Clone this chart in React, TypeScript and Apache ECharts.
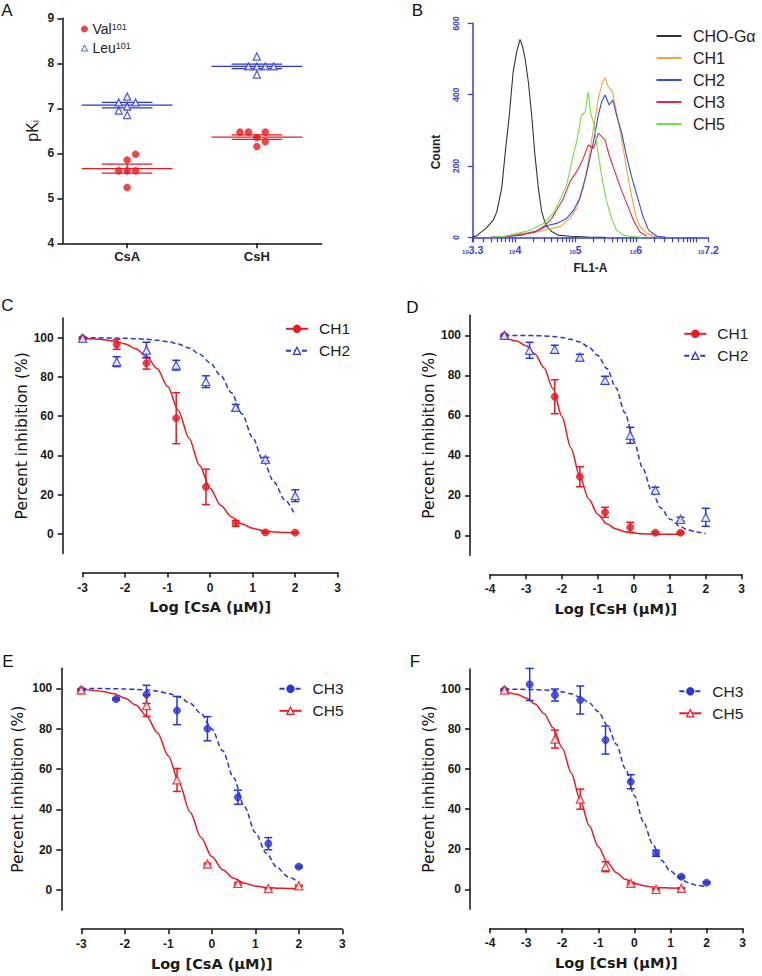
import React, { useEffect, useRef } from 'react';
import * as echarts from 'echarts';

// ---------- Panel A ----------
const groups = ['CsA', 'CsH'];
const groupPos = [1, 3];
const valCsA = [5.98, 5.85, 5.61, 5.61, 5.61, 5.24];
const valCsAJit = [0.13, 0, -0.13, 0, 0.13, 0];
const valCsH = [6.47, 6.47, 6.47, 6.35, 6.26, 6.15];
const valCsHJit = [-0.26, -0.13, 0.13, 0, 0.13, 0];
const leuCsA = [7.26, 7.13, 7.13, 7.04, 6.95, 6.85];
const leuCsAJit = [0, -0.13, 0.13, 0, -0.13, 0];
const leuCsH = [8.15, 7.93, 7.93, 7.93, 7.93, 7.75];
const leuCsHJit = [0, -0.13, 0, 0.13, 0.26, 0];
const valMean = [5.66, 6.36];
const valSem = [0.1, 0.05];
const leuMean = [7.07, 7.93];
const leuSem = [0.06, 0.05];

// ---------- Panel B (log10 FL1-A vs count) ----------
const histNames = ['CHO-G\u03b1', 'CH1 ', 'CH2 ', 'CH3 ', 'CH5 '];
const histColors = ['#333333', '#f5a33a', '#3746e0', '#ea2748', '#70e040'];
const blackX = [3.3, 3.37, 3.41, 3.52, 3.64, 3.7, 3.78, 3.835, 3.906, 3.97, 4.028, 4.083, 4.127, 4.166, 4.221, 4.276, 4.33, 4.387, 4.442, 4.51, 4.607, 4.717, 4.91, 5.2, 5.5];
const blackY = [2, 4, 11, 25, 48, 72, 137, 231, 343, 464, 520, 555, 534, 502, 436, 343, 231, 137, 72, 34, 16, 6, 3, 1, 0];
const orangeX = [3.6, 3.84, 4.11, 4.39, 4.61, 4.75, 4.91, 5.02, 5.13, 5.214, 5.3, 5.38, 5.45, 5.49, 5.545, 5.617, 5.68, 5.74, 5.82, 5.9, 5.99, 6.07, 6.18, 6.29, 6.4];
const orangeY = [0, 2, 11, 16, 25, 30, 53, 81, 137, 212, 306, 390, 436, 448, 422, 408, 350, 300, 220, 142, 67, 30, 11, 3, 0];
const blueX = [3.6, 3.84, 4.11, 4.39, 4.55, 4.69, 4.856, 4.97, 5.07, 5.18, 5.3, 5.38, 5.435, 5.49, 5.56, 5.617, 5.68, 5.77, 5.85, 5.93, 6.04, 6.12, 6.21, 6.35, 6.5];
const blueY = [0, 2, 6, 20, 34, 39, 53, 76, 109, 175, 268, 343, 380, 399, 371, 385, 343, 290, 225, 170, 105, 58, 20, 3, 0];
const redX = [3.6, 3.84, 4.11, 4.33, 4.5, 4.61, 4.69, 4.8, 4.91, 5.02, 5.13, 5.214, 5.3, 5.38, 5.435, 5.49, 5.56, 5.62, 5.74, 5.85, 5.96, 6.07, 6.18];
const redY = [0, 2, 8, 14, 34, 53, 76, 109, 156, 184, 221, 259, 249, 292, 282, 273, 230, 200, 142, 95, 48, 15, 3];
const greenX = [3.6, 3.84, 4.249, 4.47, 4.635, 4.745, 4.856, 4.94, 5.02, 5.1, 5.16, 5.214, 5.25, 5.31, 5.38, 5.45, 5.518, 5.6, 5.68, 5.79, 5.9, 6.1];
const greenY = [0, 3, 20, 39, 67, 105, 147, 212, 268, 343, 350, 408, 350, 315, 231, 156, 100, 53, 20, 6, 3, 0];
const bLabelValues = [3.3, 4, 5, 6, 7.2];

// ---------- Panels C-F ----------
const yTicksDose = [0, 20, 40, 60, 80, 100];
const fitX21 = [-3, -2.75, -2.5, -2.25, -2, -1.75, -1.5, -1.25, -1, -0.75, -0.5, -0.25, 0, 0.25, 0.5, 0.75, 1, 1.25, 1.5, 1.75, 2];
const fitX23 = [-3.6, -3.25, -3, -2.75, -2.5, -2.25, -2, -1.75, -1.5, -1.25, -1, -0.75, -0.5, -0.25, 0, 0.25, 0.5, 0.75, 1, 1.3, 1.5, 1.75, 2];

// C: CsA, CH1 / CH2
const doseXC = [-3, -2.2, -1.5, -0.8, -0.1, 0.6, 1.3, 2.0];
const ch1C = [99.7, 96.6, 87, 59, 24, 5.4, 0.8, 0.7];
const ch1CErr = [0.5, 2.5, 3, 13, 9, 1.5, 0.3, 0.3];
const ch2C = [99.7, 87.8, 93.7, 86, 77.6, 64.5, 38, 19.5];
const ch2CErr = [0.5, 2.5, 4, 2.5, 3, 1.5, 1, 3];
const ch1CFit = [99.7, 99.4, 99.0, 98.2, 96.8, 94.4, 90.5, 84.3, 75.1, 62.9, 48.9, 34.9, 23.2, 14.5, 8.7, 5.1, 2.9, 1.7, 1.0, 0.7, 0.6];
const ch2CFit = [99.96, 99.95, 99.9, 99.8, 99.7, 99.5, 99.2, 98.7, 98.0, 96.8, 94.8, 91.7, 87.2, 80.7, 71.9, 61.1, 49.0, 37.1, 26.5, 17.5, 9.5];

// D: CsH, CH1 / CH2
const ch1XD = [-3.6, -2.2, -1.5, -0.8, -0.1, 0.6, 1.3];
const ch1D = [99.7, 69.3, 29.3, 11.5, 4, 1.3, 1.3];
const ch1DErr = [0.5, 8.5, 5, 2.5, 2.5, 0.5, 0.5];
const ch2XD = [-3.6, -2.9, -2.2, -1.5, -0.8, -0.1, 0.6, 1.3, 2.0];
const ch2D = [100, 92.5, 93, 89, 77.5, 50, 22.5, 8, 9];
const ch2DErr = [0.5, 4, 2, 1.5, 2, 4, 1.5, 1, 4.5];
const ch1DFit = [98.8, 97.2, 94.8, 90.7, 83.8, 73.4, 59.4, 43.7, 29.2, 18.0, 10.4, 5.8, 3.2, 1.8, 1.1, 0.8, 0.6, 0.5, 0.5, 0.5];
const ch2DFit = [99.97, 99.9, 99.9, 99.8, 99.7, 99.4, 98.9, 98.0, 96.6, 94.1, 89.9, 83.4, 73.8, 61.3, 47.1, 33.4, 22.0, 13.7, 8.2, 4.3, 2.7, 1.6, 0.9];

// E: CsA, CH3 / CH5
const ch3XE = [-3, -2.2, -1.5, -0.8, -0.1, 0.6, 1.3, 2.0];
const ch3E = [99.2, 94.7, 97, 89, 80, 46, 23, 11.6];
const ch3EErr = [0.5, 0.5, 4.5, 7, 6, 3.5, 3, 0.5];
const ch5XE = [-3, -1.5, -0.8, -0.1, 0.6, 1.3, 2.0];
const ch5E = [99.2, 91.4, 54.6, 12.9, 3.3, 0.8, 2.1];
const ch5EErr = [0.5, 5.3, 5.7, 0.5, 0.5, 0.3, 0.3];
const ch3EFit = [99.98, 99.95, 99.9, 99.8, 99.7, 99.5, 99.2, 98.6, 97.5, 95.7, 92.6, 87.6, 79.9, 69.1, 55.7, 41.4, 28.5, 18.3, 11.2, 6.6, 3.8];
const ch5EFit = [99.5, 99.1, 98.4, 97.3, 95.2, 91.8, 86.3, 78.0, 66.6, 52.9, 38.7, 26.2, 16.6, 10.1, 5.9, 3.4, 2.0, 1.3, 0.9, 0.8, 0.7];

// F: CsH, CH3 / CH5
const ch3XF = [-3.6, -2.9, -2.2, -1.5, -0.8, -0.1, 0.6, 1.3, 2.0];
const ch3F = [99.5, 102.3, 97, 94.5, 74.5, 53.7, 18, 6.3, 3.3];
const ch3FErr = [0.5, 8, 3, 7, 7, 3.5, 1.5, 0.5, 0.5];
const ch5XF = [-3.6, -2.2, -1.5, -0.8, -0.1, 0.6, 1.3];
const ch5F = [99.5, 75, 45, 11.3, 3, 0, 0.5];
const ch5FErr = [0.5, 4.5, 5, 2.5, 0.5, 0.3, 0.3];
const ch3FFit = [99.96, 99.9, 99.8, 99.7, 99.5, 99.2, 98.6, 97.6, 95.9, 93.1, 88.7, 81.9, 72.4, 60.2, 46.7, 33.7, 22.7, 14.5, 9.0, 4.9, 3.2, 1.9, 1.1];
const ch5FFit = [98.8, 97.4, 95.5, 92.5, 87.7, 80.6, 70.6, 58.1, 44.5, 31.7, 21.2, 13.5, 8.3, 5.0, 2.9, 1.8, 1.1, 0.8, 0.6, 0.5];

// ---------- styles ----------
const RED = '#e8191f';
const BLUE = '#2a35d6';
const AXB = '#3b3bd6';
const INK = '#111111';
const FONT = 'Liberation Sans, Arial, sans-serif';
const NAMEFONT = 'DejaVu Sans, Verdana, sans-serif';

const zip = (xs: number[], ys: number[]) => xs.map((x, i) => [x, ys[i]]);

function errRender(color: string) {
  return (params: any, api: any) => {
    const x = api.value(0), y = api.value(1), e = api.value(2);
    const t = api.coord([x, y + e]);
    const b = api.coord([x, y - e]);
    const w = 4;
    const st = { stroke: color, lineWidth: 1.5 };
    return {
      type: 'group',
      children: [
        { type: 'line', shape: { x1: t[0], y1: t[1], x2: b[0], y2: b[1] }, style: st },
        { type: 'line', shape: { x1: t[0] - w, y1: t[1], x2: t[0] + w, y2: t[1] }, style: st },
        { type: 'line', shape: { x1: b[0] - w, y1: b[1], x2: b[0] + w, y2: b[1] }, style: st },
      ],
    };
  };
}

function meanRender(color: string) {
  return (params: any, api: any) => {
    const x = api.value(0), m = api.value(1), s = api.value(2);
    const a = api.coord([x - 0.7, m]), b = api.coord([x + 0.7, m]);
    const c1 = api.coord([x - 0.39, m + s]), c2 = api.coord([x + 0.39, m + s]);
    const d1 = api.coord([x - 0.39, m - s]), d2 = api.coord([x + 0.39, m - s]);
    const ct = api.coord([x, m + s]), cb = api.coord([x, m - s]);
    const st = { stroke: color, lineWidth: 1.3 };
    return {
      type: 'group',
      children: [
        { type: 'line', shape: { x1: a[0], y1: a[1], x2: b[0], y2: b[1] }, style: st },
        { type: 'line', shape: { x1: c1[0], y1: c1[1], x2: c2[0], y2: c2[1] }, style: st },
        { type: 'line', shape: { x1: d1[0], y1: d1[1], x2: d2[0], y2: d2[1] }, style: st },
        { type: 'line', shape: { x1: ct[0], y1: ct[1], x2: cb[0], y2: cb[1] }, style: st },
      ],
    };
  };
}

type Ds = {
  name: string; color: string; symbol: string; filled: boolean; dashed: boolean;
  x: number[]; y: number[]; e: number[]; cx: number[]; cy: number[];
};

function markerStyle(d: Ds) {
  return d.filled
    ? { color: d.color, borderColor: d.color, borderWidth: 1 }
    : { color: '#ffffff', borderColor: d.color, borderWidth: 1.3 };
}

function doseSeries(gi: number, list: Ds[]) {
  const out: any[] = [];
  list.forEach((d) => {
    out.push({
      type: 'line', name: d.name, xAxisIndex: gi, yAxisIndex: gi,
      data: d.cx.map((v, i) => [v, d.cy[i]]).filter((p) => p[1] !== undefined),
      showSymbol: false, symbol: d.symbol, symbolSize: 8, smooth: 0.3, smoothMonotone: 'x',
      lineStyle: { color: d.color, width: 1.5, type: d.dashed ? [5, 3] : 'solid' },
      itemStyle: markerStyle(d), z: 2, silent: true,
    });
  });
  list.forEach((d) => {
    out.push({
      type: 'custom', name: d.name + '-err', xAxisIndex: gi, yAxisIndex: gi,
      data: d.x.map((v, i) => [v, d.y[i], d.e[i]]), renderItem: errRender(d.color), z: 3, silent: true,
    });
  });
  list.forEach((d) => {
    out.push({
      type: 'scatter', name: d.name + '-pts', xAxisIndex: gi, yAxisIndex: gi,
      data: zip(d.x, d.y), symbol: d.symbol, symbolSize: d.symbol === 'circle' ? 7 : 8,
      itemStyle: markerStyle(d), z: 4, silent: true,
    });
  });
  return out;
}

function doseX(gi: number, min: number, name: string) {
  return {
    type: 'value', gridIndex: gi, min, max: 3, interval: 1, position: 'bottom', offset: 19,
    axisLine: { show: true, onZero: false, lineStyle: { color: INK, width: 1.5 } },
    axisTick: { show: true, length: 5, lineStyle: { color: INK, width: 1.5 } },
    axisLabel: { margin: 9, fontSize: 12, fontWeight: 'bold', color: '#1a1a1a', fontFamily: FONT },
    splitLine: { show: false },
    name, nameLocation: 'middle', nameGap: 27,
    nameTextStyle: { fontFamily: NAMEFONT, fontSize: 14.5, fontWeight: 'bold', color: '#1a1a1a' },
  };
}

function doseY(gi: number, gap: number) {
  return {
    type: 'value', gridIndex: gi, min: -10, max: 110, position: 'left', offset: 20,
    axisLine: { show: true, onZero: false, lineStyle: { color: INK, width: 1.5 } },
    axisTick: { show: true, length: 5, customValues: yTicksDose, lineStyle: { color: INK, width: 1.5 } },
    axisLabel: { customValues: yTicksDose, margin: 9, fontSize: 12, fontWeight: 'bold', color: '#1a1a1a', fontFamily: FONT },
    splitLine: { show: false },
    name: 'Percent inhibition (%)', nameLocation: 'middle', nameGap: gap,
    nameTextStyle: { fontFamily: NAMEFONT, fontSize: 15.5, color: INK },
  };
}

function doseLegend(left: number, top: number, names: string[]) {
  return {
    show: true, orient: 'vertical', left, top, itemWidth: 22, itemHeight: 9, itemGap: 6,
    data: names, selectedMode: false,
    itemStyle: { borderWidth: 1.2 },
    textStyle: { fontSize: 15.5, color: '#222', fontFamily: FONT, padding: [0, 0, 0, 6] },
  };
}

function buildOption() {
  const bTicks: number[] = [3.3];
  for (let d = 3; d <= 7; d++) {
    for (let k = 1; k <= 9; k++) {
      const v = d + Math.log10(k);
      if (v > 3.3 + 1e-6 && v < 7.2 - 1e-6) bTicks.push(+v.toFixed(4));
    }
  }
  bTicks.push(7.2);

  const C: Ds[] = [
    { name: 'CH1', color: RED, symbol: 'circle', filled: true, dashed: false, x: doseXC, y: ch1C, e: ch1CErr, cx: fitX21, cy: ch1CFit },
    { name: 'CH2', color: BLUE, symbol: 'triangle', filled: false, dashed: true, x: doseXC, y: ch2C, e: ch2CErr, cx: fitX21, cy: ch2CFit },
  ];
  const D: Ds[] = [
    { name: 'CH1', color: RED, symbol: 'circle', filled: true, dashed: false, x: ch1XD, y: ch1D, e: ch1DErr, cx: fitX23.slice(0, ch1DFit.length), cy: ch1DFit },
    { name: 'CH2', color: BLUE, symbol: 'triangle', filled: false, dashed: true, x: ch2XD, y: ch2D, e: ch2DErr, cx: fitX23, cy: ch2DFit },
  ];
  const E: Ds[] = [
    { name: 'CH3', color: BLUE, symbol: 'circle', filled: true, dashed: true, x: ch3XE, y: ch3E, e: ch3EErr, cx: fitX21, cy: ch3EFit },
    { name: 'CH5', color: RED, symbol: 'triangle', filled: false, dashed: false, x: ch5XE, y: ch5E, e: ch5EErr, cx: fitX21, cy: ch5EFit },
  ];
  const F: Ds[] = [
    { name: 'CH3', color: BLUE, symbol: 'circle', filled: true, dashed: true, x: ch3XF, y: ch3F, e: ch3FErr, cx: fitX23, cy: ch3FFit },
    { name: 'CH5', color: RED, symbol: 'triangle', filled: false, dashed: false, x: ch5XF, y: ch5F, e: ch5FErr, cx: fitX23.slice(0, ch5FFit.length), cy: ch5FFit },
  ];

  const histX = [blackX, orangeX, blueX, redX, greenX];
  const histY = [blackY, orangeY, blueY, redY, greenY];

  const aPts = (vals: number[], jit: number[], gp: number) => vals.map((v, i) => [gp + jit[i], v]);

  const series: any[] = [
    {
      type: 'custom', name: 'valMean', xAxisIndex: 0, yAxisIndex: 0,
      data: groupPos.map((g, i) => [g, valMean[i], valSem[i]]), renderItem: meanRender(RED), z: 2, silent: true,
    },
    {
      type: 'custom', name: 'leuMean', xAxisIndex: 0, yAxisIndex: 0,
      data: groupPos.map((g, i) => [g, leuMean[i], leuSem[i]]), renderItem: meanRender(BLUE), z: 2, silent: true,
    },
    {
      type: 'scatter', name: 'Val101', xAxisIndex: 0, yAxisIndex: 0,
      data: [...aPts(valCsA, valCsAJit, groupPos[0]), ...aPts(valCsH, valCsHJit, groupPos[1])],
      symbol: 'circle', symbolSize: 7, itemStyle: { color: RED, borderColor: RED, borderWidth: 0.5 }, z: 3, silent: true,
    },
    {
      type: 'scatter', name: 'Leu101', xAxisIndex: 0, yAxisIndex: 0,
      data: [...aPts(leuCsA, leuCsAJit, groupPos[0]), ...aPts(leuCsH, leuCsHJit, groupPos[1])],
      symbol: 'triangle', symbolSize: 7, itemStyle: { color: '#ffffff', borderColor: BLUE, borderWidth: 1.3 }, z: 3, silent: true,
    },
    ...histNames.map((n, i) => ({
      type: 'line', name: n, xAxisIndex: 1, yAxisIndex: 1, data: zip(histX[i], histY[i]),
      showSymbol: false, symbol: 'none', lineStyle: { color: histColors[i], width: 1.1 },
      itemStyle: { color: histColors[i] }, z: 2 + i, silent: true,
    })),
    ...doseSeries(2, C),
    ...doseSeries(3, D),
    ...doseSeries(4, E),
    ...doseSeries(5, F),
  ];

  const gridBase = { outerBoundsMode: 'none', containLabel: false };

  return {
    animation: false,
    backgroundColor: '#ffffff',
    textStyle: { fontFamily: FONT },
    grid: [
      { ...gridBase, left: 62.3, top: 18.3, width: 259.4, height: 225 },
      { ...gridBase, left: 472.7, top: 23.3, width: 235.6, height: 214 },
      { ...gridBase, left: 82.7, top: 318.1, width: 255, height: 235.5 },
      { ...gridBase, left: 490, top: 315.3, width: 251.7, height: 240 },
      { ...gridBase, left: 81.3, top: 668.2, width: 261, height: 242 },
      { ...gridBase, left: 490, top: 669, width: 252.7, height: 240.3 },
    ],
    xAxis: [
      {
        type: 'value', gridIndex: 0, min: 0, max: 4,
        axisLine: { show: true, onZero: false, lineStyle: { color: INK, width: 1.5 } },
        axisTick: { show: true, length: 5, customValues: groupPos, lineStyle: { color: INK, width: 1.5 } },
        axisLabel: {
          customValues: groupPos, margin: 7, fontSize: 13, fontWeight: 'bold', color: '#222', fontFamily: FONT,
          formatter: (v: number) => groups[groupPos.indexOf(v)] ?? '',
        },
        splitLine: { show: false },
      },
      {
        type: 'value', gridIndex: 1, min: 3.3, max: 7.2,
        axisLine: { show: true, onZero: false, lineStyle: { color: AXB, width: 1.5 } },
        axisTick: { show: true, length: 5, customValues: bTicks, lineStyle: { color: AXB, width: 1.2 } },
        axisLabel: {
          customValues: bLabelValues, margin: 7, color: AXB,
          formatter: (v: number) => `{s|10}{e|${v}}`,
          rich: {
            s: { fontSize: 6, fontWeight: 'bold', color: AXB, fontFamily: FONT, verticalAlign: 'bottom' },
            e: { fontSize: 10.5, fontWeight: 'bold', color: AXB, fontFamily: FONT, verticalAlign: 'bottom' },
          },
        },
        splitLine: { show: false },
        name: 'FL1-A', nameLocation: 'middle', nameGap: 25,
        nameTextStyle: { fontSize: 12, fontWeight: 'bold', color: '#222', fontFamily: FONT },
      },
      doseX(2, -3, 'Log [CsA (\u03bcM)]'),
      doseX(3, -4, 'Log [CsH (\u03bcM)]'),
      doseX(4, -3, 'Log [CsA (\u03bcM)]'),
      doseX(5, -4, 'Log [CsH (\u03bcM)]'),
    ],
    yAxis: [
      {
        type: 'value', gridIndex: 0, min: 4, max: 9, interval: 1,
        axisLine: { show: true, onZero: false, lineStyle: { color: INK, width: 1.5 } },
        axisTick: { show: true, length: 5, lineStyle: { color: INK, width: 1.5 } },
        axisLabel: { margin: 8, fontSize: 12, fontWeight: 'bold', color: '#222', fontFamily: FONT },
        splitLine: { show: false },
        name: '{a|pK}{b|i}', nameLocation: 'middle', nameGap: 22,
        nameTextStyle: {
          rich: {
            a: { fontSize: 16, color: '#222', fontFamily: FONT },
            b: { fontSize: 10, color: '#222', fontFamily: FONT, verticalAlign: 'bottom' },
          },
        },
      },
      {
        type: 'value', gridIndex: 1, min: 0, max: 600, interval: 200,
        axisLine: { show: true, onZero: false, lineStyle: { color: AXB, width: 1.5 } },
        axisTick: { show: true, length: 5, lineStyle: { color: AXB, width: 1.2 } },
        axisLabel: { rotate: 90, margin: 12, fontSize: 8.5, fontWeight: 'bold', color: AXB, fontFamily: FONT },
        splitLine: { show: false },
      },
      doseY(2, 33),
      doseY(3, 33.5),
      doseY(4, 35),
      doseY(5, 33.5),
    ],
    legend: [
      {
        show: true, orient: 'vertical', left: 76, top: 17, itemWidth: 6, itemHeight: 6, itemGap: 5,
        data: ['Val101', 'Leu101'], selectedMode: false,
        itemStyle: { borderWidth: 1 },
        formatter: (n: string) => `{m|${n.slice(0, 3)}}{s|${n.slice(3)}}`,
        textStyle: {
          rich: {
            m: { fontSize: 14, color: '#222', fontFamily: FONT },
            s: { fontSize: 9, color: '#222', fontFamily: FONT, verticalAlign: 'top' },
          },
        },
      },
      {
        show: true, orient: 'vertical', left: 651.5, top: 23, icon: 'rect', itemWidth: 25, itemHeight: 2, itemGap: 6,
        data: histNames, selectedMode: false,
        formatter: (n: string) => n.trim(),
        textStyle: { fontSize: 16, color: '#222', fontFamily: FONT, padding: [0, 0, 0, 6.5] },
      },
      doseLegend(280, 315.8, ['CH1', 'CH2']),
      doseLegend(678.3, 320.8, ['CH1', 'CH2']),
      doseLegend(273.5, 675.8, ['CH3', 'CH5']),
      doseLegend(673.3, 678.3, ['CH3', 'CH5']),
    ],
    graphic: [
      ...[
        ['A', 7, 10], ['B', 417.5, 10], ['C', 7.5, 305], ['D', 412.5, 307], ['E', 8, 661], ['F', 415, 661],
      ].map(([t, x, y]) => ({
        type: 'text', x, y, silent: true,
        style: {
          text: t, font: `17px ${FONT}`, fill: INK,
          align: 'center', verticalAlign: 'middle', textAlign: 'center', textVerticalAlign: 'middle',
        },
      })),
      {
        type: 'text', x: 436, y: 152, rotation: Math.PI / 2, silent: true,
        style: {
          text: 'Count', font: `bold 12px ${FONT}`, fill: '#222',
          align: 'center', verticalAlign: 'middle', textAlign: 'center', textVerticalAlign: 'middle',
        },
      },
    ],
    series,
  };
}

export default function App() {
  const ref = useRef<HTMLDivElement>(null);
  useEffect(() => {
    if (!ref.current) return;
    const chart = echarts.init(ref.current, null, { renderer: 'svg' });
    chart.setOption(buildOption() as any);
    return () => chart.dispose();
  }, []);
  return (
    <div
      ref={ref}
      style={{ position: 'absolute', left: 0, top: 0, width: 762, height: 976, background: '#ffffff' }}
    />
  );
}
